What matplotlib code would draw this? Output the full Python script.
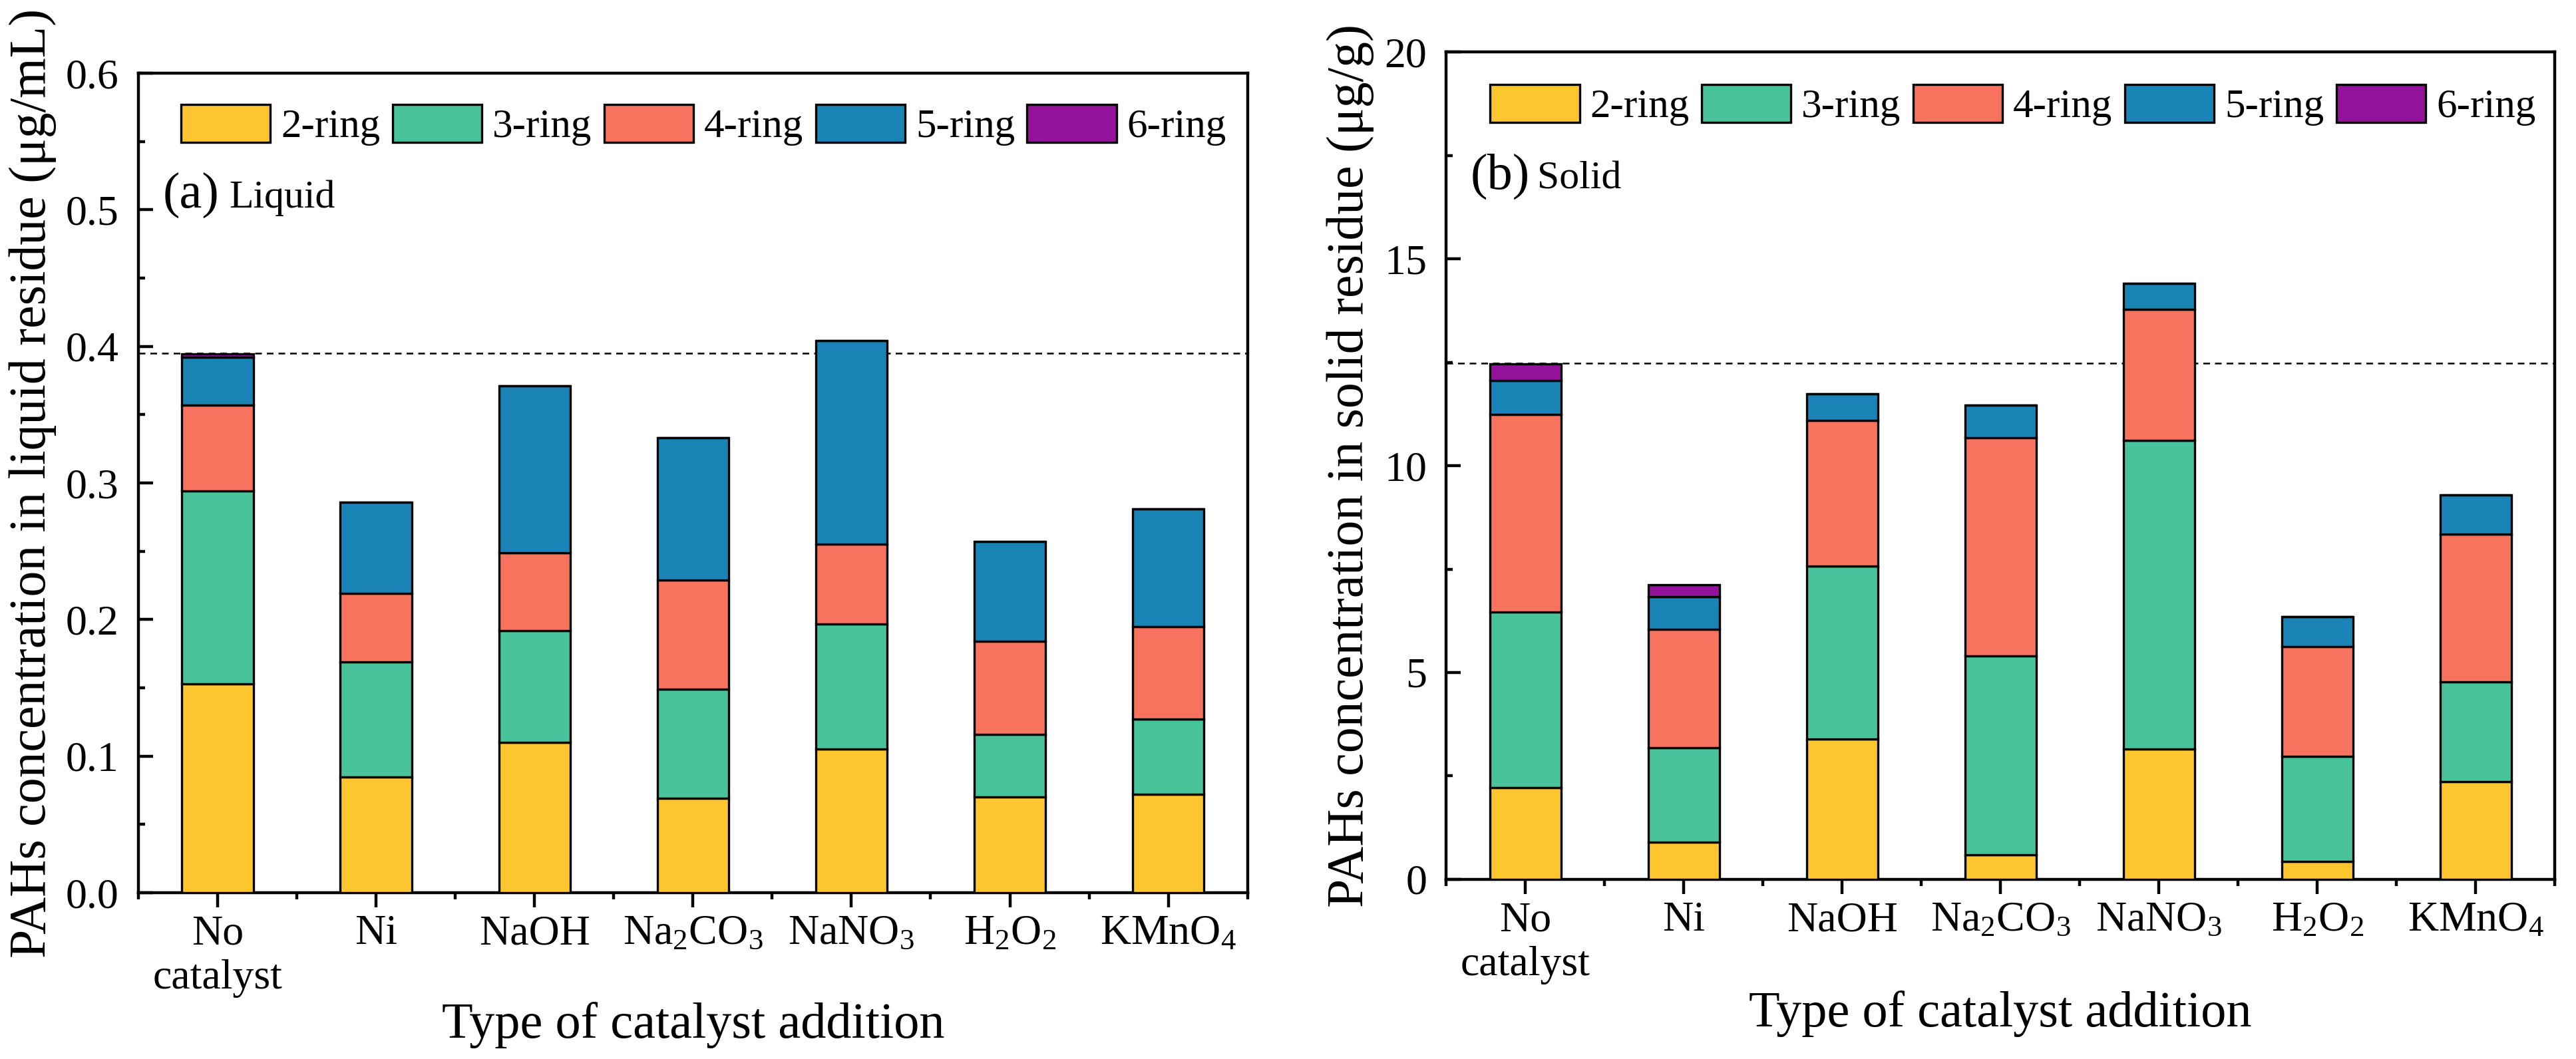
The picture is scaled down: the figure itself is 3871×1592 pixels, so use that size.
import numpy as np
import matplotlib
matplotlib.use("Agg")
import matplotlib.pyplot as plt
from matplotlib.ticker import MultipleLocator, FormatStrFormatter

plt.rcParams["font.family"] = ["Liberation Serif", "DejaVu Serif"]
plt.rcParams["mathtext.fontset"] = "custom"
plt.rcParams["mathtext.rm"] = "Liberation Serif"
plt.rcParams["mathtext.it"] = "Liberation Serif:italic"
plt.rcParams["mathtext.default"] = "rm"

catalysts = ["No\ncatalyst", "Ni", "NaOH", "Na$_2$CO$_3$", "NaNO$_3$", "H$_2$O$_2$", "KMnO$_4$"]
rings = ["2-ring", "3-ring", "4-ring", "5-ring", "6-ring"]
colors = ["#FDC62F", "#48C29B", "#F8735D", "#1984B5", "#93129A"]

# liquid residue, ug/mL (segment heights per ring)
liq_2 = [0.153, 0.085, 0.110, 0.069, 0.105, 0.070, 0.072]
liq_3 = [0.141, 0.084, 0.082, 0.080, 0.092, 0.046, 0.055]
liq_4 = [0.063, 0.050, 0.057, 0.080, 0.058, 0.068, 0.068]
liq_5 = [0.035, 0.067, 0.122, 0.104, 0.149, 0.073, 0.086]
liq_6 = [0.0025, 0, 0, 0, 0, 0, 0]
liq_ref = 0.395

# solid residue, ug/g
sol_2 = [2.22, 0.90, 3.40, 0.60, 3.15, 0.44, 2.37]
sol_3 = [4.25, 2.28, 4.18, 4.80, 7.46, 2.53, 2.40]
sol_4 = [4.76, 2.86, 3.52, 5.28, 3.17, 2.66, 3.57]
sol_5 = [0.82, 0.80, 0.64, 0.78, 0.62, 0.72, 0.95]
sol_6 = [0.41, 0.29, 0, 0, 0, 0, 0]
sol_ref = 12.47

fig = plt.figure(figsize=(38.71, 15.92), dpi=100)
axL = fig.add_axes([0.0537, 0.1570, 0.4306, 0.7739])
axR = fig.add_axes([0.5614, 0.1696, 0.4304, 0.7814])


def draw(ax, series, ref, ymax, major, minor, ylabel, tag, name,
         leg_anchor, txt_y, ylab_x, xlab_y):
    x = np.arange(len(catalysts))
    bottom = np.zeros(len(catalysts))
    for vals, lab, c in zip(series, rings, colors):
        vals = np.array(vals)
        ax.bar(x, vals, 0.45, bottom=bottom, color=c, edgecolor="black",
               linewidth=2.4, label=lab, zorder=3)
        bottom += vals
    ax.axhline(ref, color="black", lw=1.8, dashes=(4, 3), zorder=2)

    ax.set_xlim(-0.5, len(catalysts) - 0.5)
    ax.set_ylim(0, ymax)
    ax.set_xticks(x)
    ax.set_xticklabels(catalysts, fontsize=46, linespacing=1.2)
    ax.set_xticks(np.arange(-0.5, len(catalysts)), minor=True)
    ax.yaxis.set_major_locator(MultipleLocator(major))
    ax.yaxis.set_minor_locator(MultipleLocator(minor))
    ax.tick_params(axis="x", which="major", direction="out", length=16, width=3.2, pad=8)
    ax.tick_params(axis="x", which="minor", direction="out", length=7, width=3.2)
    ax.tick_params(axis="y", which="major", direction="in", length=16, width=3.2, pad=21,
                   labelsize=46)
    ax.tick_params(axis="y", which="minor", direction="in", length=7, width=3.2)
    for sp in ax.spines.values():
        sp.set_linewidth(3.2)

    ax.set_xlabel("Type of catalyst addition", fontsize=55)
    ax.xaxis.label.set_va("baseline")
    ax.xaxis.set_label_coords(0.5, xlab_y)
    ax.set_ylabel(ylabel, fontsize=56)
    ax.yaxis.set_label_coords(ylab_x, 0.5)

    ax.legend(ncol=5, loc="upper left", bbox_to_anchor=leg_anchor, frameon=False,
              fontsize=44, handlelength=2.2, handleheight=1.05, handletextpad=0.26,
              columnspacing=0.3, borderpad=0, borderaxespad=0)
    ax.text(0.022, txt_y, tag, transform=ax.transAxes, fontsize=55, va="baseline")
    ax.text(0.082, txt_y, name, transform=ax.transAxes, fontsize=43, va="baseline")


draw(axL, [liq_2, liq_3, liq_4, liq_5, liq_6], liq_ref, 0.6, 0.1, 0.05,
     "PAHs concentration in liquid residue (\u03bcg/mL)", "(a)", "Liquid",
     (0.0384, 0.962), 0.836, -0.0738, -0.177)
axL.yaxis.set_major_formatter(FormatStrFormatter("%.1f"))

draw(axR, [sol_2, sol_3, sol_4, sol_5, sol_6], sol_ref, 20, 5, 2.5,
     "PAHs concentration in solid residue (\u03bcg/g)", "(b)", "Solid",
     (0.0396, 0.9606), 0.835, -0.0648, -0.178)

fig.savefig("out.png", dpi=100)
